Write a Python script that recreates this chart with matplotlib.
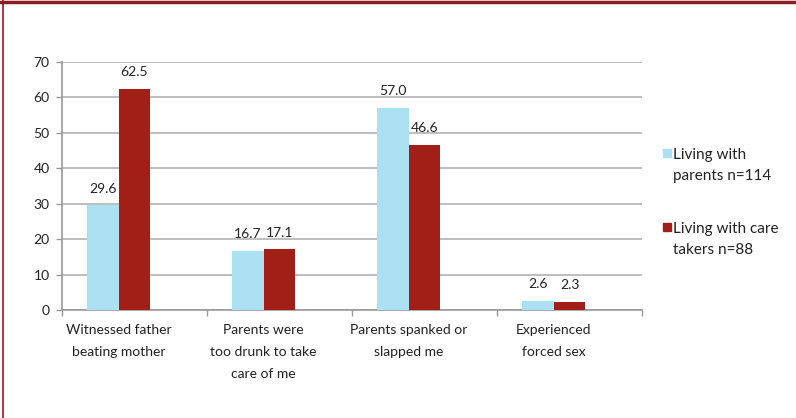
import matplotlib.pyplot as plt
import matplotlib.patches as patches
import numpy as np

categories = ["Witnessed father\nbeating mother",
              "Parents were\ntoo drunk to take\ncare of me",
              "Parents spanked or\nslapped me",
              "Experienced\nforced sex"]
parents = [29.6, 16.7, 57.0, 2.6]
caretakers = [62.5, 17.1, 46.6, 2.3]
series_names = ["Living with\nparents n=114", "Living with care\ntakers n=88"]
yticks = [0, 10, 20, 30, 40, 50, 60, 70]

c_blue = "#abe1f2"
c_red = "#a21f17"
border = "#8a1c22"

plt.rcParams['font.family'] = ['Lato', 'DejaVu Sans']

fig = plt.figure(figsize=(7.96, 4.18), dpi=100)
ax = fig.add_axes([62 / 796, 1 - 310 / 418, 580 / 796, 248 / 418])

x = np.arange(len(categories))
w = 0.22
b1 = ax.bar(x - w / 2, parents, w, color=c_blue, zorder=3)
b2 = ax.bar(x + w / 2, caretakers, w, color=c_red, zorder=3)

for bars, vals in ((b1, parents), (b2, caretakers)):
    for r, v in zip(bars, vals):
        ax.text(r.get_x() + r.get_width() / 2, v + 3.0, f"{v:.1f}",
                ha='center', va='bottom', fontsize=10, color='#222222')

ax.set_xlim(-0.39, 3.61)
ax.set_ylim(0, 70)
ax.set_yticks(yticks)
ax.set_yticklabels([str(t) for t in yticks], fontsize=10, color='#222222')
ax.yaxis.grid(True, color='#b3b3b3', linewidth=1.2, zorder=0)
ax.set_xticks(x)
ax.set_xticklabels(categories, fontsize=10, color='#222222', linespacing=2.0)
ax.tick_params(axis='x', length=0, pad=10)
ax.set_xticks(np.arange(-0.39, 3.62, 1.0), minor=True)
ax.tick_params(axis='x', which='minor', length=4, color='#999999', width=1)
ax.tick_params(axis='y', length=4, color='#999999', width=1, pad=5)
for s in ('top', 'right'):
    ax.spines[s].set_visible(False)
for s in ('left', 'bottom'):
    ax.spines[s].set_color('#999999')
    ax.spines[s].set_linewidth(1.2)

# legend drawn by hand: square aligned with the first text line
for i, (name, col) in enumerate(zip(series_names, [c_blue, c_red])):
    top = 149 + i * 74
    fig.add_artist(patches.Rectangle((663 / 796, 1 - (top + 8) / 418), 8 / 796, 8 / 418,
                                     transform=fig.transFigure, color=col))
    fig.text(673 / 796, 1 - (top - 1) / 418, name, fontsize=11, color='#222222',
             va='top', ha='left', linespacing=1.65)

# page border
fig.add_artist(plt.Line2D([0, 1], [1 - 1.5 / 418, 1 - 1.5 / 418], color=border, linewidth=2.5,
                          transform=fig.transFigure))
fig.add_artist(plt.Line2D([3 / 796, 3 / 796], [0, 1], color=border, linewidth=1.2,
                          transform=fig.transFigure))

fig.savefig("out.png", dpi=100, facecolor='white')
